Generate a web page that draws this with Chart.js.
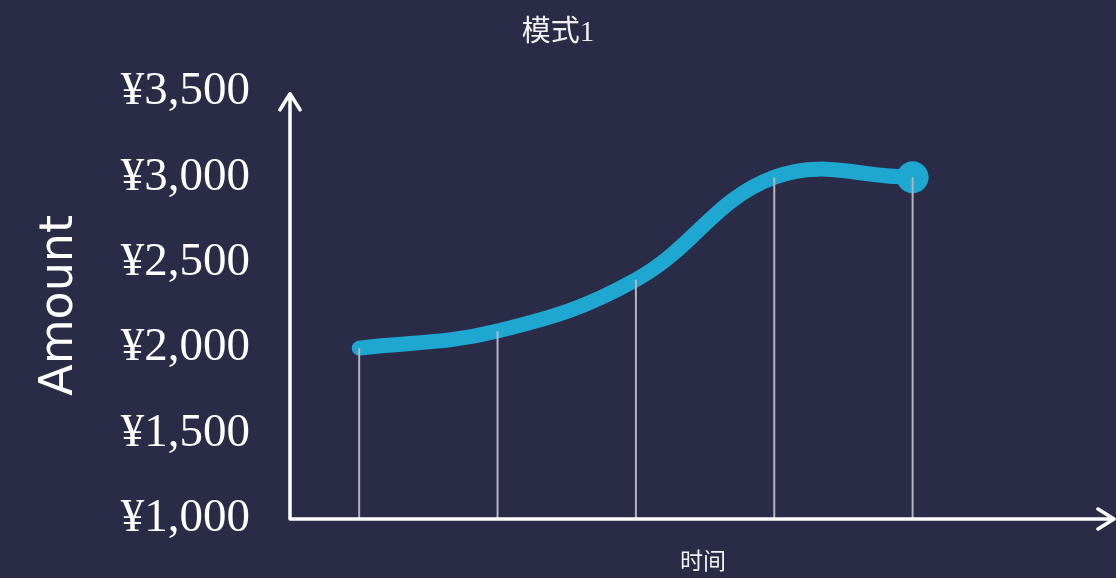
<!DOCTYPE html>
<html>
<head>
<meta charset="utf-8">
<script src="https://cdn.jsdelivr.net/npm/chart.js@4/dist/chart.umd.min.js"></script>
<style>
  html, body { margin: 0; padding: 0; background: #292b47; }
  #wrap { width: 1116px; height: 578px; }
</style>
</head>
<body>
<div id="wrap"><canvas id="chart"></canvas></div>
<script>
const periods = [0, 1, 2, 3, 4]
const amounts = [2000, 2100, 2400, 3000, 3000]
const yTicks = [1000, 1500, 2000, 2500, 3000, 3500]

const lineColor = '#1ea7d1'
const axisColor = '#ffffff'

// white axes with arrow heads, drawn over the plot edges
const arrowAxes = {
  id: 'arrowAxes',
  afterDraw(chart) {
    const { ctx, chartArea } = chart
    const x0 = chartArea.left
    const y0 = chartArea.bottom
    ctx.save()
    ctx.strokeStyle = axisColor
    ctx.lineWidth = 3.5
    ctx.lineCap = 'round'
    ctx.lineJoin = 'round'
    ctx.beginPath()
    ctx.moveTo(x0, y0)
    ctx.lineTo(x0, chartArea.top + 2)
    ctx.moveTo(x0 - 10, chartArea.top + 18)
    ctx.lineTo(x0, chartArea.top + 2)
    ctx.lineTo(x0 + 10, chartArea.top + 18)
    ctx.moveTo(x0, y0)
    ctx.lineTo(chartArea.right - 2, y0)
    ctx.moveTo(chartArea.right - 18, y0 - 10)
    ctx.lineTo(chartArea.right - 2, y0)
    ctx.lineTo(chartArea.right - 18, y0 + 10)
    ctx.stroke()
    ctx.restore()
  },
}

// thin drop lines from each point down to the time axis
const dropLines = {
  id: 'dropLines',
  afterDatasetsDraw(chart) {
    const { ctx, scales } = chart
    const meta = chart.getDatasetMeta(0)
    const base = scales.y.getPixelForValue(yTicks[0])
    ctx.save()
    ctx.strokeStyle = '#b4b4bc'
    ctx.lineWidth = 2
    meta.data.forEach((pt) => {
      ctx.beginPath()
      ctx.moveTo(pt.x, pt.y)
      ctx.lineTo(pt.x, base)
      ctx.stroke()
    })
    ctx.restore()
  },
}

const data = {
  datasets: [
    {
      data: periods.map((p, i) => ({ x: p, y: amounts[i] })),
      borderColor: lineColor,
      backgroundColor: lineColor,
      borderWidth: 15,
      borderCapStyle: 'round',
      tension: 0.4,
      pointRadius: amounts.map((_, i) => (i === amounts.length - 1 ? 16 : 0)),
      pointHoverRadius: 0,
      pointBorderWidth: 0,
      pointBackgroundColor: lineColor,
      clip: false,
    },
  ],
}

const options = {
  responsive: true,
  maintainAspectRatio: false,
  animation: false,
  layout: { padding: 0, autoPadding: false },
  plugins: {
    legend: { display: false },
    tooltip: { enabled: false },
    title: {
      display: true,
      text: '模式1',
      color: '#f2f2f2',
      font: { family: "'Liberation Serif', 'Noto Sans CJK SC', serif", size: 29, weight: 'normal' },
      padding: { top: 16, bottom: 41 },
    },
  },
  scales: {
    x: {
      type: 'linear',
      min: -0.5,
      max: 5.47,
      grid: { display: false },
      border: { display: false },
      ticks: { display: false },
      title: {
        display: true,
        text: '时间',
        color: '#f2f2f2',
        font: { family: "'Noto Sans CJK SC', sans-serif", size: 23 },
        padding: { top: 0, bottom: 4 },
      },
      afterFit: (scale) => {
        scale.height = 59
      },
    },
    y: {
      min: yTicks[0],
      max: yTicks[yTicks.length - 1],
      afterBuildTicks: (scale) => {
        scale.ticks = yTicks.map((v) => ({ value: v }))
      },
      grid: { display: false, drawTicks: false },
      border: { display: false },
      ticks: {
        color: '#ffffff',
        padding: 40,
        font: { family: "'Liberation Serif', serif", size: 47 },
        callback: (v) => '¥' + v.toLocaleString('en-US'),
      },
      title: {
        display: true,
        text: 'Amount',
        color: '#ffffff',
        font: { family: "'DejaVu Sans', sans-serif", size: 46 },
        padding: { top: 32, bottom: 0 },
      },
      afterFit: (scale) => {
        scale.width = 290
        // tick padding is horizontal gap only, keep it out of the vertical overflow
        scale.paddingTop = 30
        scale.paddingBottom = 30
      },
    },
  },
}

new Chart(document.getElementById('chart'), {
  type: 'line',
  data,
  options,
  plugins: [dropLines, arrowAxes],
})
</script>
</body>
</html>
